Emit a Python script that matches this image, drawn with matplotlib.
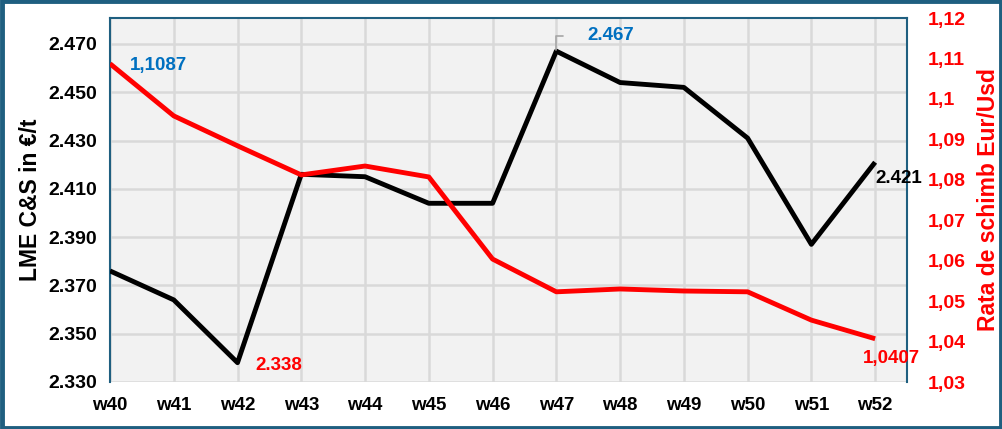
import matplotlib.pyplot as plt
from matplotlib.patches import Rectangle

# date
saptamani = ['w40', 'w41', 'w42', 'w43', 'w44', 'w45', 'w46',
             'w47', 'w48', 'w49', 'w50', 'w51', 'w52']
lme_cs = [2376, 2364, 2338, 2416, 2415, 2404, 2404,
          2467, 2454, 2452, 2431, 2387, 2421]
eur_usd = [1.1087, 1.0958, 1.0884, 1.0812, 1.0834, 1.0807, 1.0604,
           1.0523, 1.0530, 1.0525, 1.0523, 1.0453, 1.0407]

stanga_ticks = [2330, 2350, 2370, 2390, 2410, 2430, 2450, 2470]
dreapta_ticks = [1.03, 1.04, 1.05, 1.06, 1.07, 1.08, 1.09, 1.10, 1.11, 1.12]

albastru = '#1F5F80'
rosu = '#FF0000'
gri = '#D9D9D9'

plt.rcParams['font.family'] = ['Liberation Sans', 'DejaVu Sans']

fig = plt.figure(figsize=(10.03, 4.29), dpi=100)
fig.patches.append(Rectangle((0.0015, 0.003), 0.997, 0.994, transform=fig.transFigure,
                             fill=False, edgecolor=albastru, linewidth=3.5))

ax = fig.add_axes([110 / 1003, 47 / 429, 797 / 1003, 364 / 429])
ax.set_facecolor('#F2F2F2')
x = list(range(len(saptamani)))

ax.set_xlim(0, 12.5)
ax.set_ylim(2330, 2330 + 364 / 48.3 * 20)
ax.set_xticks(x)
ax.set_xticklabels(saptamani, fontsize=13.5, fontweight='bold')
ax.set_yticks(stanga_ticks)
ax.set_yticklabels([f'{v // 1000}.{v % 1000:03d}' for v in stanga_ticks],
                   fontsize=14, fontweight='bold')
ax.tick_params(axis='x', length=0, pad=11)
ax.tick_params(axis='y', length=0, pad=9)
ax.grid(True, color=gri, linewidth=1.8)
ax.set_axisbelow(True)
for s in ['left', 'top', 'right']:
    ax.spines[s].set_color(albastru)
    ax.spines[s].set_linewidth(1.5)
ax.spines['bottom'].set_visible(False)
ax.set_ylabel('LME C&S in €/t', fontsize=16.5, fontweight='bold', labelpad=5)

ax2 = ax.twinx()
ax2.set_ylim(1.03, 1.12)
ax2.set_yticks(dreapta_ticks)
ax2.set_yticklabels([f'{v:.2f}'.rstrip('0').replace('.', ',') for v in dreapta_ticks],
                    fontsize=14, fontweight='bold', color=rosu)
ax2.tick_params(length=0, pad=15)
for s in ax2.spines.values():
    s.set_visible(False)
ax2.set_ylabel('Rata de schimb Eur/Usd', fontsize=16.5, fontweight='bold',
               color=rosu, labelpad=8)

ax2.plot(x, eur_usd, color=rosu, linewidth=3.5, solid_capstyle='butt', zorder=2)
ax.plot(x, lme_cs, color='black', linewidth=3.5, solid_capstyle='butt', zorder=3)

# etichete
ax2.annotate('1,1087', (x[0], eur_usd[0]), xytext=(14, -1.5), textcoords='offset points',
             color='#0070C0', fontsize=13.5, fontweight='bold', va='center')
ax.annotate('2.338', (x[2], lme_cs[2]), xytext=(13, -2), textcoords='offset points',
            color=rosu, fontsize=13.5, fontweight='bold', va='center')
ax.annotate('2.467', (x[7], lme_cs[7]), xytext=(22, 11), textcoords='offset points',
            color='#0070C0', fontsize=13.5, fontweight='bold', va='center',
            arrowprops=dict(arrowstyle='-', color='#A6A6A6', lw=1.2,
                            connectionstyle='angle,angleA=0,angleB=90,rad=0',
                            shrinkA=15, shrinkB=1))
ax.annotate('2.421', (x[12], lme_cs[12]), xytext=(0, -12), textcoords='offset points',
            color='black', fontsize=13.5, fontweight='bold', va='center')
ax2.annotate('1,0407', (x[12], eur_usd[12]), xytext=(-9, -14), textcoords='offset points',
             color=rosu, fontsize=13.5, fontweight='bold', va='center')

fig.savefig('out.png', dpi=100)
